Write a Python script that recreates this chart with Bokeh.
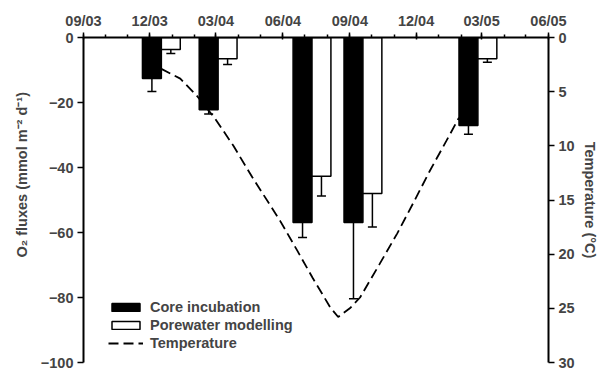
import pandas as pd
from bokeh.plotting import figure
from bokeh.models import (Range1d, LinearAxis, FixedTicker, DatetimeTickFormatter,
                          ColumnDataSource, Whisker, TeeHead, Legend, LegendItem, Title)
from bokeh.embed import file_html
from bokeh.resources import INLINE

# ---- data ----
sample_dates = ["2003-12-17", "2004-03-04", "2004-07-11", "2004-09-19", "2005-02-24"]
core_flux = [-12.6, -22.2, -56.9, -56.9, -27.1]
core_err = [4.0, 1.3, 4.6, 23.5, 2.7]
pore_flux = [-3.7, -6.5, -42.7, -48.0, -6.5]
pore_err = [1.2, 1.8, 6.1, 10.3, 1.1]

temp_dates = ["2003-12-17", "2004-01-12", "2004-02-04", "2004-02-29", "2004-03-25",
              "2004-04-20", "2004-05-28", "2004-06-21", "2004-07-12", "2004-08-05",
              "2004-08-16", "2004-09-01", "2004-09-15", "2004-10-12", "2004-11-05",
              "2004-11-27", "2004-12-20", "2005-01-12", "2005-01-29"]
temp_values = [2.9, 3.8, 5.4, 7.5, 10.0, 12.9, 16.9, 19.7, 22.2, 24.9,
               25.8, 25.0, 24.0, 20.9, 18.1, 15.3, 12.3, 9.5, 7.4]

flux_ticks = [0, -20, -40, -60, -80, -100]
temp_ticks = [0, 5, 10, 15, 20, 25, 30]

FONT = "Liberation Sans"
FS = "14.5px"

def to_ms(idx):
    return [float(t.value // 10**6) for t in idx]

major = pd.date_range("2003-09-01", "2005-06-01", freq="3MS")
minor = pd.date_range("2003-09-01", "2005-06-01", freq="MS")

p = figure(width=603, height=370, output_backend="svg", toolbar_location=None,
           x_axis_type="datetime", x_axis_location="above",
           x_range=Range1d(pd.Timestamp("2003-09-01"), pd.Timestamp("2005-06-01")),
           y_range=Range1d(-100, 0),
           min_border_left=83, min_border_right=55, min_border_top=37, min_border_bottom=8)
p.outline_line_color = None
p.grid.visible = False
p.extra_y_ranges = {"temp": Range1d(start=30, end=0)}

# temperature line (behind bars)
tl = p.line(pd.to_datetime(temp_dates), temp_values, y_range_name="temp",
            line_color="black", line_width=1.8, line_dash="10 5")

d = pd.to_datetime(sample_dates)
off = pd.Timedelta(days=13)
width_ms = 26 * 86400000

core_src = ColumnDataSource(dict(x=d - off, top=core_flux,
                                 upper=[v + e for v, e in zip(core_flux, core_err)],
                                 lower=[v - e for v, e in zip(core_flux, core_err)]))
pore_src = ColumnDataSource(dict(x=d + off, top=pore_flux,
                                 upper=[v + e for v, e in zip(pore_flux, pore_err)],
                                 lower=[v - e for v, e in zip(pore_flux, pore_err)]))

cb = p.vbar(x="x", top="top", bottom=0, width=width_ms, source=core_src,
            fill_color="black", line_color="black", line_width=1.5)
pb = p.vbar(x="x", top="top", bottom=0, width=width_ms, source=pore_src,
            fill_color="white", line_color="black", line_width=1.5)

for src in (core_src, pore_src):
    w = Whisker(base="x", upper="upper", lower="lower", source=src, dimension="height",
                line_color="black", line_width=1.5,
                upper_head=TeeHead(size=9, line_color="black", line_width=1.5),
                lower_head=TeeHead(size=9, line_color="black", line_width=1.5))
    p.add_layout(w)

# axes styling
def style(ax):
    ax.axis_line_width = 2
    ax.major_tick_line_width = 1.5
    ax.minor_tick_line_width = 1.5
    ax.major_label_text_font = FONT
    ax.major_label_text_font_style = "bold"
    ax.major_label_text_font_size = FS
    ax.axis_label_text_font = FONT
    ax.axis_label_text_font_style = "bold"
    ax.axis_label_text_font_size = FS
    ax.major_label_standoff = 4

xa = p.xaxis[0]
xa.ticker = FixedTicker(ticks=to_ms(major), minor_ticks=to_ms(minor))
fmt = "%m/%y"
xa.formatter = DatetimeTickFormatter(days=fmt, months=fmt, years=fmt, hours=fmt,
                                     minutes=fmt, hourmin=fmt, seconds=fmt)
xa.major_tick_out = 5
xa.major_tick_in = 2
xa.minor_tick_out = 3
xa.minor_tick_in = 0
style(xa)

ya = p.yaxis[0]
ya.ticker = FixedTicker(ticks=flux_ticks, minor_ticks=[])
ya.major_tick_out = 6
ya.major_tick_in = 0
style(ya)

# left axis title (placed like the original, slightly above centre)
p.add_layout(Title(text="O\u2082 fluxes (mmol m\u207b\u00b2 d\u207b\u00b9)",
                   align="left", offset=105, standoff=16,
                   text_font=FONT, text_font_style="bold", text_font_size=FS), "left")

ra = LinearAxis(y_range_name="temp", ticker=FixedTicker(ticks=temp_ticks, minor_ticks=[]),
                axis_label="Temperature (\u00b0C)")
ra.major_tick_out = 6
ra.major_tick_in = 0
ra.axis_label_standoff = 4
style(ra)
p.add_layout(ra, "right")

legend = Legend(items=[LegendItem(label="Core incubation", renderers=[cb]),
                       LegendItem(label="Porewater modelling", renderers=[pb]),
                       LegendItem(label="Temperature", renderers=[tl])],
                location=(25, 11), glyph_width=35, glyph_height=10,
                label_text_font=FONT, label_text_font_style="bold",
                label_text_font_size=FS, label_height=12, spacing=2,
                padding=0, margin=0, border_line_alpha=0, background_fill_alpha=0,
                label_standoff=7)
p.add_layout(legend)

open("out.html", "w").write(file_html(p, INLINE))
